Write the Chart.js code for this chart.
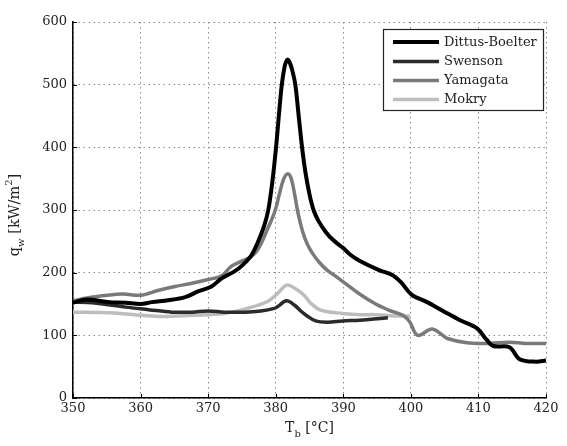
<!DOCTYPE html>
<html>
<head>
<meta charset="utf-8">
<script src="https://cdn.jsdelivr.net/npm/chart.js@4/dist/chart.umd.min.js"></script>
<style>
  html, body { margin: 0; padding: 0; background: #fff; }
  #wrap { width: 567px; height: 446px; position: relative; }
</style>
</head>
<body>
<div id="wrap"><canvas id="chart"></canvas></div>
<script>
// bulk temperature T_b [°C] and wall heat flux q_w [kW/m2]
const dittusT = [350, 352, 355.4, 357.8, 360, 361.7, 364.1, 366.6, 368.5, 370.5, 372, 373.9, 375.1, 376.3, 377, 377.6, 378.3, 378.9, 379.5, 380.05, 380.5, 380.9, 381.3, 381.55, 381.8, 382.05, 382.4, 382.9, 383.4, 383.9, 384.4, 385, 385.6, 386.3, 387.4, 388.5, 389.9, 391, 392.4, 395.3, 397.3, 398.6, 400.1, 402.4, 404.9, 407.3, 409.8, 411.2, 412.2, 414.6, 416.1, 418.5, 420];
const dittusQ = [152, 157, 153, 152, 150, 153, 156, 161, 170, 178, 191, 202, 212, 226, 240, 255, 275, 300, 345, 400, 455, 500, 528, 537, 540, 536, 525, 500, 450, 400, 360, 325, 300, 283, 265, 252, 240, 229, 219, 204, 196, 184, 165, 153, 138, 124, 111, 93, 83, 81, 62, 58, 60];

const swensonT = [350, 352.9, 357.8, 361.2, 364.6, 367.6, 370, 372.4, 375.4, 377.8, 379.8, 380.3, 381.6, 382.8, 383.8, 384.5, 385.9, 387.7, 389.9, 392.4, 394.5, 396.6];
const swensonQ = [153, 152, 145, 141, 137, 137, 139, 137, 137, 139, 143, 146, 155, 148, 138, 132, 123, 121, 123, 124, 126, 128];

const yamagataT = [350, 352.9, 357.3, 360, 362.7, 365.1, 367.6, 370, 372, 373.4, 374.9, 376.3, 377.3, 378, 378.6, 379.3, 380, 380.6, 381.2, 381.8, 382.3, 382.8, 383.3, 384, 384.7, 385.5, 386.4, 387.6, 388.9, 390.4, 392.4, 394.8, 396.8, 398.8, 399.8, 401, 403.1, 404.6, 405.4, 408.3, 411.2, 414.6, 417, 420];
const yamagataQ = [155, 161, 166, 164, 172, 178, 183, 189, 195, 210, 218, 225, 236, 250, 265, 282, 302, 328, 350, 358, 350, 325, 295, 265, 245, 230, 217, 204, 194, 182, 166, 150, 140, 132, 122, 100, 110, 101, 95, 88, 87, 89, 87, 87];

const mokryT = [350, 355.4, 360.2, 363.2, 367.6, 372.4, 375.8, 378.8, 380.3, 381.6, 382.7, 384.2, 385.2, 386.7, 389.9, 392.6, 394.8, 397.6, 399.9];
const mokryQ = [137, 136, 132, 130, 132, 135, 143, 154, 167, 180, 176, 164, 151, 140, 135, 133, 133, 131, 131];

const seriesNames = ['Dittus-Boelter', 'Swenson', 'Yamagata', 'Mokry'];
const xTicks = [350, 360, 370, 380, 390, 400, 410, 420];
const yTicks = [0, 100, 200, 300, 400, 500, 600];

const textColor = '#222';
const serif = '"DejaVu Serif", serif';

function pts(xs, ys) {
    return xs.map((x, i) => ({ x: x, y: ys[i] }));
}

function line(label, xs, ys, color, width) {
    return {
        label: label,
        data: pts(xs, ys),
        borderColor: color,
        backgroundColor: color,
        borderWidth: width,
        pointRadius: 0,
        tension: 0.35,
        fill: false
    };
}

// text with sub/superscript pieces, centred on x
function drawRich(ctx, parts, x, y, size) {
    const small = Math.round(size * 0.72);
    let w = 0;
    parts.forEach(p => {
        ctx.font = (p.sub || p.sup ? small : size) + 'px ' + serif;
        p.w = ctx.measureText(p.t).width;
        w += p.w;
    });
    let cx = x - w / 2;
    ctx.textAlign = 'left';
    ctx.textBaseline = 'alphabetic';
    parts.forEach(p => {
        ctx.font = (p.sub || p.sup ? small : size) + 'px ' + serif;
        let dy = 0;
        if (p.sub) dy = size * 0.35;
        if (p.sup) dy = -size * 0.45;
        ctx.fillText(p.t, cx, y + dy);
        cx += p.w;
    });
}

const extras = {
    id: 'extras',
    afterDraw(chart) {
        const ctx = chart.ctx;
        const a = chart.chartArea;
        const sx = chart.scales.x, sy = chart.scales.y;
        ctx.save();

        // inward tick marks
        ctx.strokeStyle = '#000';
        ctx.lineWidth = 1;
        xTicks.forEach(t => {
            const px = Math.round(sx.getPixelForValue(t)) + 0.5;
            ctx.beginPath();
            ctx.moveTo(px, a.bottom);
            ctx.lineTo(px, a.bottom - 4);
            ctx.stroke();
        });
        yTicks.forEach(t => {
            const py = Math.round(sy.getPixelForValue(t)) + 0.5;
            ctx.beginPath();
            ctx.moveTo(a.left, py);
            ctx.lineTo(a.left + 4, py);
            ctx.stroke();
        });

        // axis titles
        ctx.fillStyle = textColor;
        drawRich(ctx, [{ t: 'T' }, { t: 'b', sub: true }, { t: ' [°C]' }], (a.left + a.right) / 2, 432, 14);
        ctx.save();
        ctx.translate(19, 215);
        ctx.rotate(-Math.PI / 2);
        drawRich(ctx, [{ t: 'q' }, { t: 'w', sub: true }, { t: ' [kW/m' }, { t: '2', sup: true }, { t: ']' }], 0, 0, 14.5);
        ctx.restore();

        // legend box
        const bx = 383, by = 29, bw = 160, bh = 81;
        ctx.fillStyle = '#fff';
        ctx.fillRect(bx, by, bw, bh);
        ctx.strokeStyle = '#222';
        ctx.lineWidth = 1.2;
        ctx.strokeRect(bx + 0.5, by + 0.5, bw, bh);
        const rows = [42, 61.5, 80.5, 99.5];
        chart.data.datasets.forEach((ds, i) => {
            ctx.strokeStyle = ds.borderColor;
            ctx.lineWidth = ds.borderWidth;
            ctx.beginPath();
            ctx.moveTo(393, rows[i]);
            ctx.lineTo(439, rows[i]);
            ctx.stroke();
            ctx.fillStyle = textColor;
            ctx.font = '13px ' + serif;
            ctx.textAlign = 'left';
            ctx.textBaseline = 'middle';
            ctx.fillText(ds.label, 444, rows[i] + 0.5);
        });
        ctx.restore();
    }
};

const gridStyle = {
    color: '#8a8a8a',
    lineWidth: 1,
    drawTicks: false
};

new Chart(document.getElementById('chart'), {
    type: 'line',
    data: {
        datasets: [
            line(seriesNames[0], dittusT, dittusQ, '#000000', 4),
            line(seriesNames[1], swensonT, swensonQ, '#2b2b2b', 3.5),
            line(seriesNames[2], yamagataT, yamagataQ, '#7a7a7a', 3.5),
            line(seriesNames[3], mokryT, mokryQ, '#bdbdbd', 3.5)
        ]
    },
    options: {
        responsive: true,
        maintainAspectRatio: false,
        animation: false,
        layout: { padding: { top: 22, right: 21, left: 0, bottom: 0 } },
        plugins: {
            legend: { display: false },
            tooltip: { enabled: false }
        },
        scales: {
            x: {
                type: 'linear',
                min: 350,
                max: 420,
                afterBuildTicks: s => { s.ticks = xTicks.map(v => ({ value: v })); },
                afterFit: s => { s.height = 48; },
                grid: gridStyle,
                border: { color: '#000', width: 1.5 },
                ticks: {
                    color: textColor,
                    font: { family: serif, size: 13 },
                    padding: 3,
                    maxRotation: 0
                }
            },
            y: {
                min: 0,
                max: 600,
                afterBuildTicks: s => { s.ticks = yTicks.map(v => ({ value: v })); },
                afterFit: s => { s.width = 73; },
                grid: gridStyle,
                border: { color: '#000', width: 1.5 },
                ticks: {
                    color: textColor,
                    font: { family: serif, size: 13 },
                    padding: 6
                }
            }
        }
    },
    plugins: [extras]
});

// dotted grid lines (axis borders stay solid)
const ch = Chart.getChart('chart');
ch.options.scales.x.border.dash = [1.5, 3.5];
ch.options.scales.y.border.dash = [1.5, 3.5];
ch.update();
</script>
</body>
</html>
